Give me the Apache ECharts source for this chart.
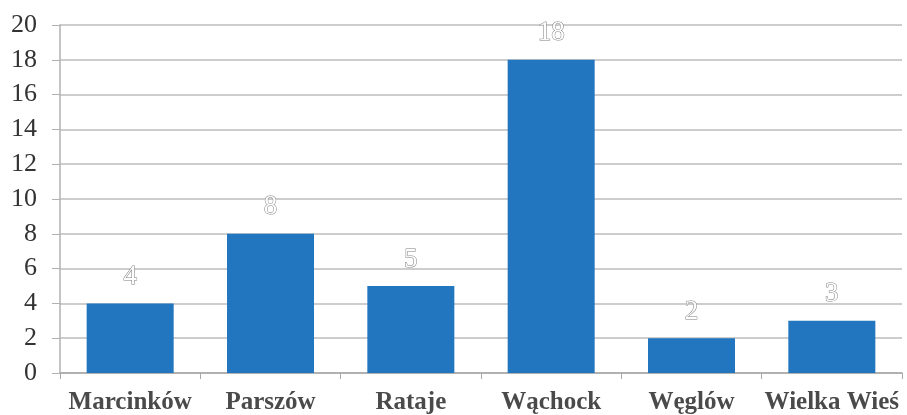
<!DOCTYPE html>
<html><head><meta charset="utf-8">
<script src="https://cdn.jsdelivr.net/npm/echarts@6/dist/echarts.min.js"></script>
<style>html,body{margin:0;padding:0;background:#fff}#c{width:907px;height:415px}</style>
</head><body><div id="c"></div>
<script>
const categories = ['Marcinków', 'Parszów', 'Rataje', 'Wąchock', 'Węglów', 'Wielka Wieś'];
const values = [4, 8, 5, 18, 2, 3];
const yTicks = { min: 0, max: 20, interval: 2 };

const chart = echarts.init(document.getElementById('c'));
chart.setOption({
  animation: false,
  grid: { left: 60, right: 5, top: 25, bottom: 41, containLabel: false },
  xAxis: {
    type: 'category', data: categories,
    axisLine: { lineStyle: { color: '#a8a8a8', width: 1.5 } },
    axisTick: { show: true, length: 6, lineStyle: { color: '#a8a8a8' } },
    axisLabel: { interval: 0, hideOverlap: false, color: '#4a4a4a', fontFamily: 'Liberation Serif', fontSize: 25, fontWeight: 'bold', margin: 17 }
  },
  yAxis: {
    type: 'value', min: yTicks.min, max: yTicks.max, interval: yTicks.interval,
    axisLine: { show: true, lineStyle: { color: '#b0b0b0', width: 1.5 } },
    axisTick: { show: true, length: 8, inside: false, lineStyle: { color: '#b0b0b0' } },
    axisLabel: { color: '#333', fontFamily: 'Liberation Serif', fontSize: 26, margin: 23 },
    splitLine: { lineStyle: { color: '#bdbdbd', width: 1.5 } }
  },
  series: [{
    type: 'bar', data: values, barCategoryGap: '38%',
    itemStyle: { color: '#2176bf' },
    label: {
      show: true, position: 'top', distance: 13,
      fontFamily: 'Liberation Serif', fontSize: 27,
      color: '#ffffff', textBorderColor: '#808080', textBorderWidth: 1
    }
  }]
});
</script></body></html>
